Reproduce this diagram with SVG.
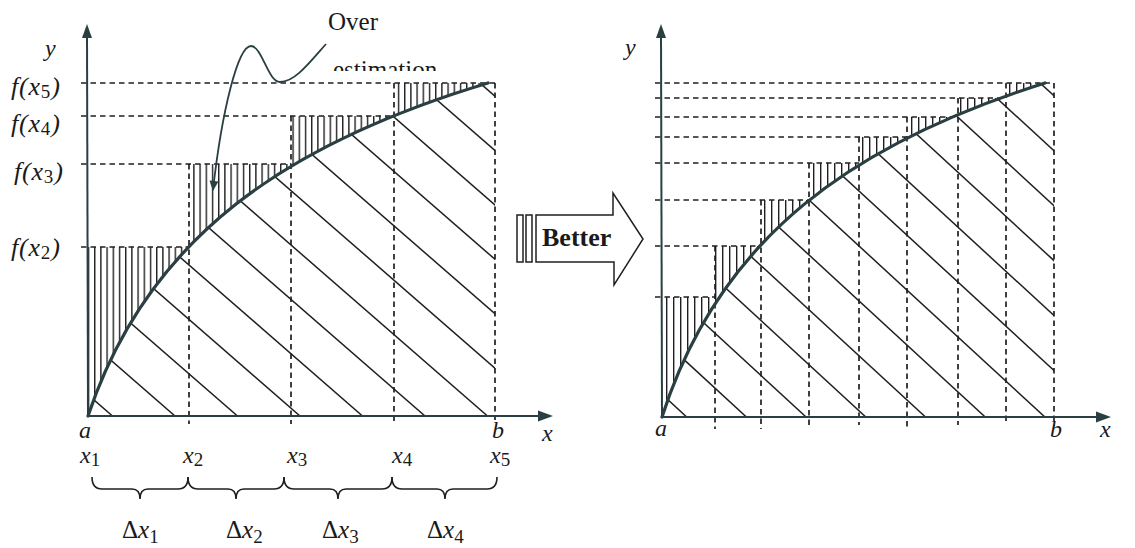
<svg xmlns="http://www.w3.org/2000/svg" width="1135" height="548" viewBox="0 0 1135 548">
<defs>
<style>
.ax{stroke:#2a3f42;stroke-width:2;fill:none}
.ah{fill:#2a3f42;stroke:none}
.curve{stroke:#2a3f42;stroke-width:3.2;fill:none;stroke-linecap:round}
.dash{stroke:#1f1f1f;stroke-width:1.7;stroke-dasharray:5.5 4;fill:none}
.hat{stroke:#1f1f1f;stroke-width:1.5;fill:none}
.it{font-family:"Liberation Serif","Times New Roman",serif;font-style:italic;font-size:24px;fill:#1a1a1a}
.fl{font-size:26px;letter-spacing:0.8px}
.rm{font-family:"Liberation Serif","Times New Roman",serif;font-size:25px;fill:#1a1a1a}
.sub{font-size:19px;font-style:normal}
.brace{stroke:#1f1f1f;stroke-width:1.6;fill:none}
</style>
<pattern id="vhL" patternUnits="userSpaceOnUse" x="94" y="0" width="6.2" height="20"><line x1="0.7" y1="0" x2="0.7" y2="20" stroke="#1f1f1f" stroke-width="1.4"/></pattern>
<pattern id="vhR" patternUnits="userSpaceOnUse" x="666" y="0" width="7" height="20"><line x1="0.7" y1="0" x2="0.7" y2="20" stroke="#1f1f1f" stroke-width="1.4"/></pattern>
<clipPath id="underL"><path d="M88,416 C148,236 288,143 488,83 L495,83 L495,416 Z"/></clipPath>
<clipPath id="underR"><path d="M662,417 C719.8,236 854.6,143 1045,83 L1054,83 L1054,417 Z"/></clipPath>
<clipPath id="estClip"><rect x="320" y="55" width="150" height="16"/></clipPath>
<marker id="arrowFill" viewBox="0 0 10 10" refX="9" refY="5" markerWidth="13" markerHeight="10" markerUnits="userSpaceOnUse" orient="auto"><path d="M0,0.5 L10,5 L0,9.5 Z" fill="#2a3f42"/></marker>
</defs>

<g id="left-graph">
  <path d="M88,416 V247 H189 V164 H291 V116 H394 V83 H495 V416 Z" fill="url(#vhL)"/>
  <path d="M88,416 C148,236 288,143 488,83 L495,83 L495,416 Z" fill="#fff"/>
  <g clip-path="url(#underL)" class="hat">
    <line x1="-365.5" y1="0" x2="112.5" y2="416"/>
    <line x1="-303" y1="0" x2="175" y2="416"/>
    <line x1="-240.5" y1="0" x2="237.5" y2="416"/>
    <line x1="-178" y1="0" x2="300" y2="416"/>
    <line x1="-115.5" y1="0" x2="362.5" y2="416"/>
    <line x1="-53" y1="0" x2="425" y2="416"/>
    <line x1="9.5" y1="0" x2="487.5" y2="416"/>
    <line x1="72" y1="0" x2="550" y2="416"/>
    <line x1="134.5" y1="0" x2="612.5" y2="416"/>
    <line x1="197" y1="0" x2="675" y2="416"/>
    <line x1="259.5" y1="0" x2="737.5" y2="416"/>
    <line x1="322" y1="0" x2="800" y2="416"/>
    <line x1="384.5" y1="0" x2="862.5" y2="416"/>
  </g>
  <g class="dash">
    <line x1="81" y1="83" x2="495" y2="83"/>
    <line x1="81" y1="116" x2="394" y2="116"/>
    <line x1="81" y1="164" x2="291" y2="164"/>
    <line x1="81" y1="247" x2="189" y2="247"/>
    <line x1="189" y1="164" x2="189" y2="424"/>
    <line x1="291" y1="116" x2="291" y2="424"/>
    <line x1="394" y1="83" x2="394" y2="424"/>
    <line x1="495" y1="83" x2="495" y2="420"/>
  </g>
  <line class="ax" x1="88" y1="416" x2="87" y2="34"/>
  <polygon class="ah" points="87,24 82,38 92,38"/>
  <line class="ax" x1="88" y1="416" x2="542" y2="416"/>
  <polygon class="ah" points="553,416 538,410.5 538,421.5"/>
  <path class="curve" d="M88,416 C148,236 288,143 488,83"/>
  <text class="it" x="45" y="56">y</text>
  <text class="it fl" x="11" y="95">f(x<tspan class="sub" dy="3">5</tspan><tspan dy="-3">)</tspan></text>
  <text class="it fl" x="11" y="132">f(x<tspan class="sub" dy="3">4</tspan><tspan dy="-3">)</tspan></text>
  <text class="it fl" x="14" y="180">f(x<tspan class="sub" dy="3">3</tspan><tspan dy="-3">)</tspan></text>
  <text class="it fl" x="11" y="256">f(x<tspan class="sub" dy="3">2</tspan><tspan dy="-3">)</tspan></text>
  <text class="it" x="79" y="438">a</text>
  <text class="it" x="492" y="438">b</text>
  <text class="it" x="542" y="441">x</text>
  <text class="it" x="80" y="463">x<tspan class="sub" dy="3">1</tspan></text>
  <text class="it" x="183" y="463">x<tspan class="sub" dy="3">2</tspan></text>
  <text class="it" x="287" y="463">x<tspan class="sub" dy="3">3</tspan></text>
  <text class="it" x="392" y="463">x<tspan class="sub" dy="3">4</tspan></text>
  <text class="it" x="490" y="463">x<tspan class="sub" dy="3">5</tspan></text>
</g>

<g id="braces">
  <path class="brace" d="M92,477 Q92,489 102,489 L132,489 Q140,489 140,499 Q140,489 148,489 L178,489 Q188,489 188,477"/>
  <path class="brace" d="M188,477 Q188,489 198,489 L228,489 Q236,489 236,499 Q236,489 244,489 L274,489 Q284,489 284,477"/>
  <path class="brace" d="M284,477 Q284,489 294,489 L330,489 Q338,489 338,499 Q338,489 346,489 L382,489 Q392,489 392,477"/>
  <path class="brace" d="M392,477 Q392,489 402,489 L437,489 Q445,489 445,499 Q445,489 453,489 L487,489 Q497,489 497,477"/>
  <text class="rm" x="122" y="538">Δ<tspan font-style="italic">x</tspan><tspan class="sub" dy="5">1</tspan></text>
  <text class="rm" x="226" y="538">Δ<tspan font-style="italic">x</tspan><tspan class="sub" dy="5">2</tspan></text>
  <text class="rm" x="322" y="538">Δ<tspan font-style="italic">x</tspan><tspan class="sub" dy="5">3</tspan></text>
  <text class="rm" x="427" y="538">Δ<tspan font-style="italic">x</tspan><tspan class="sub" dy="5">4</tspan></text>
</g>

<g id="over-estimation-label">
  <text class="rm" x="328" y="30">Over</text>
  <text class="rm" x="333" y="78" font-size="26" clip-path="url(#estClip)">estimation</text>
  <path d="M326,44 C310,62 295,82 280,82 C268,82 262,46 251,46 C238,46 222,110 213,190" fill="none" stroke="#2a3f42" stroke-width="1.8" marker-end="url(#arrowFill)"/>
</g>

<g id="better-arrow">
  <rect x="517" y="215" width="6" height="47" fill="#fff" stroke="#1f1f1f" stroke-width="1.5"/>
  <rect x="526" y="215" width="6" height="47" fill="#fff" stroke="#1f1f1f" stroke-width="1.5"/>
  <path d="M536,215 L613,215 L613,193 L643,239 L614,285 L614,262 L536,262 Z" fill="#fff" stroke="#1f1f1f" stroke-width="1.5" stroke-linejoin="miter"/>
  <text x="542" y="246" font-family="Liberation Serif, Times New Roman, serif" font-weight="bold" font-size="26" fill="#1a1a1a">Better</text>
</g>

<g id="right-graph">
  <path d="M662,417 V297 H715 V246 H761 V200 H809 V163 H859 V137 H907 V117 H958 V98 H1006 V83 H1054 V417 Z" fill="url(#vhR)"/>
  <path d="M662,417 C719.8,236 854.6,143 1045,83 L1054,83 L1054,417 Z" fill="#fff"/>
  <g clip-path="url(#underR)" class="hat">
    <line x1="233.4" y1="0" x2="686.7" y2="417"/>
    <line x1="293.1" y1="0" x2="746.4" y2="417"/>
    <line x1="352.8" y1="0" x2="806.1" y2="417"/>
    <line x1="412.5" y1="0" x2="865.8" y2="417"/>
    <line x1="472.2" y1="0" x2="925.5" y2="417"/>
    <line x1="531.9" y1="0" x2="985.2" y2="417"/>
    <line x1="591.6" y1="0" x2="1044.9" y2="417"/>
    <line x1="651.3" y1="0" x2="1104.6" y2="417"/>
    <line x1="711" y1="0" x2="1164.3" y2="417"/>
    <line x1="770.7" y1="0" x2="1224" y2="417"/>
    <line x1="830.4" y1="0" x2="1283.7" y2="417"/>
    <line x1="890.1" y1="0" x2="1343.4" y2="417"/>
    <line x1="949.8" y1="0" x2="1403.1" y2="417"/>
  </g>
  <g class="dash">
    <line x1="655" y1="83" x2="1054" y2="83"/>
    <line x1="655" y1="98" x2="1006" y2="98"/>
    <line x1="655" y1="117" x2="958" y2="117"/>
    <line x1="655" y1="137" x2="907" y2="137"/>
    <line x1="655" y1="163" x2="859" y2="163"/>
    <line x1="655" y1="200" x2="809" y2="200"/>
    <line x1="655" y1="246" x2="761" y2="246"/>
    <line x1="655" y1="297" x2="715" y2="297"/>
    <line x1="715" y1="246" x2="715" y2="429"/>
    <line x1="761" y1="200" x2="761" y2="429"/>
    <line x1="809" y1="163" x2="809" y2="429"/>
    <line x1="859" y1="137" x2="859" y2="425"/>
    <line x1="907" y1="117" x2="907" y2="428"/>
    <line x1="958" y1="98" x2="958" y2="425"/>
    <line x1="1006" y1="83" x2="1006" y2="425"/>
    <line x1="1054" y1="83" x2="1054" y2="426"/>
  </g>
  <line class="ax" x1="662" y1="417" x2="661" y2="34"/>
  <polygon class="ah" points="661,24 656,38 666,38"/>
  <line class="ax" x1="662" y1="417" x2="1100" y2="417"/>
  <polygon class="ah" points="1111,417 1096,411.5 1096,422.5"/>
  <path class="curve" d="M662,417 C719.8,236 854.6,143 1045,83"/>
  <text class="it" x="625" y="55">y</text>
  <text class="it" x="655" y="436">a</text>
  <text class="it" x="1050" y="437">b</text>
  <text class="it" x="1100" y="437">x</text>
</g>
</svg>
